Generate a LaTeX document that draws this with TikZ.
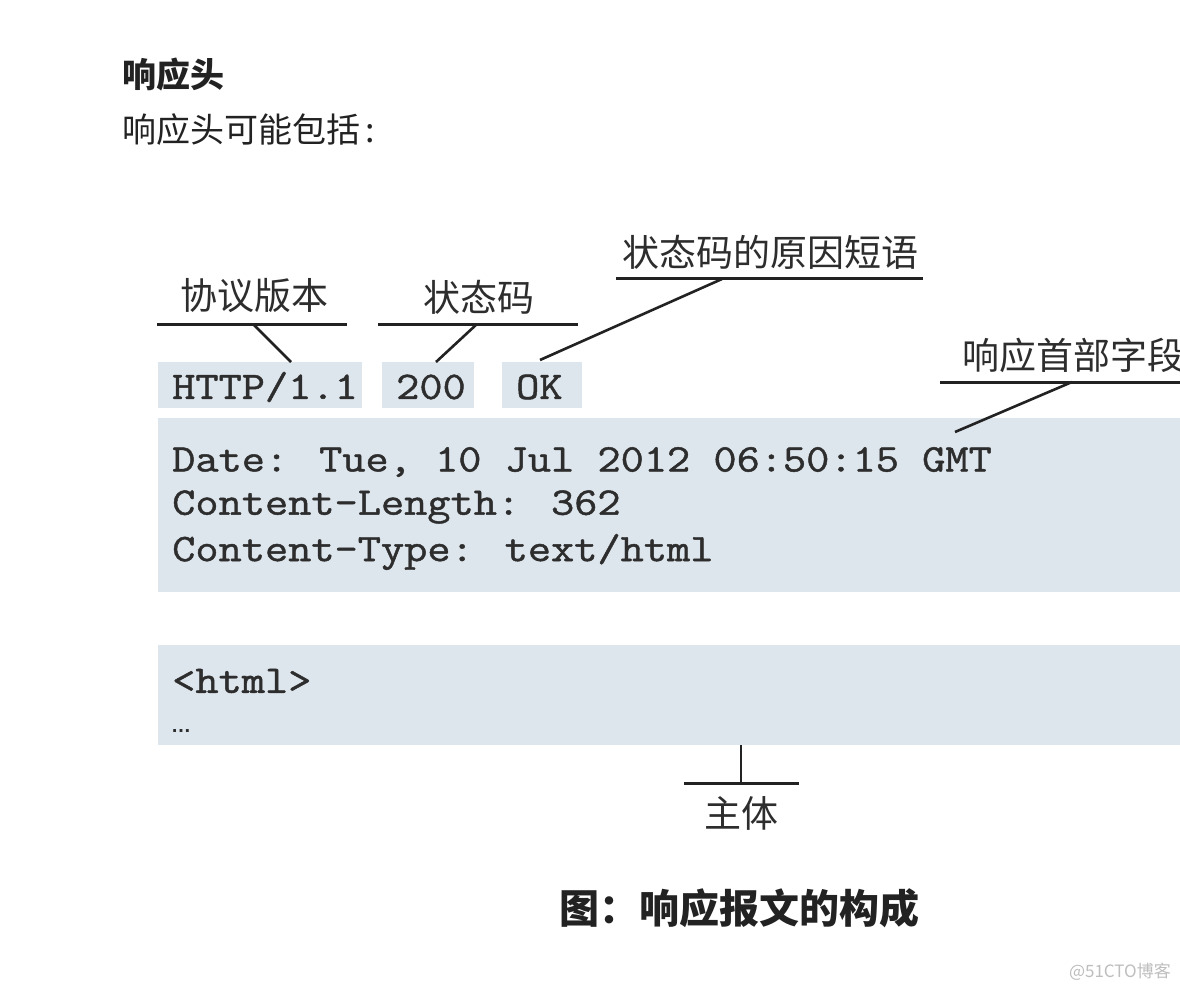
\documentclass[tikz,border=0pt]{standalone}
\usepackage{fontspec}
\setmainfont{Liberation Sans}
\newfontfamily\cjk{Noto Sans CJK SC}
\newfontfamily\mono[FakeStretch=1.155,FakeBold=1.2]{Latin Modern Mono}
\definecolor{boxc}{RGB}{221,229,237}
\definecolor{inkc}{RGB}{34,34,34}
\definecolor{labc}{RGB}{45,45,45}
\definecolor{wmc}{RGB}{190,190,190}
\begin{document}
\begin{tikzpicture}[x=1pt,y=-1pt,
  box/.style={fill=boxc,draw=none,inner sep=0,anchor=north west},
  lbl/.style={font=\cjk\fontsize{37}{40}\selectfont,text=labc,inner sep=0,anchor=west},
  code/.style={font=\mono\fontsize{39}{44}\selectfont,text=labc,inner sep=0,anchor=west},
  bar/.style={line width=3pt,draw=inkc},
  lead/.style={line width=2.6pt,draw=inkc}]
\useasboundingbox[fill=white] (0,0) rectangle (1180,992);
% headings
\node[font=\cjk\bfseries\fontsize{34}{36}\selectfont,text=inkc,inner sep=0,anchor=west] (h1) at (122,75) {响应头};
\node[font=\cjk\fontsize{34}{36}\selectfont,text=inkc,inner sep=0,anchor=west] (h2) at (122,130) {响应头可能包括\,:};
% boxes
\node[box,minimum width=204,minimum height=46] (bver) at (158,362) {};
\node[box,minimum width=92,minimum height=46] (bcode) at (382,362) {};
\node[box,minimum width=80,minimum height=46] (bok) at (502,362) {};
\node[box,minimum width=1030,minimum height=174] (bhdr) at (158,418) {};
\node[box,minimum width=1030,minimum height=100] (bbody) at (158,645) {};
% code texts
\node[code] (tver) at (172,387) {HTTP/1.1};
\node[code] (tcode) at (396,387) {200};
\node[code] (tok) at (516,387) {OK};
\node[code] (t1) at (172,462) {Date: Tue, 10 Jul 2012 06:50:15 GMT};
\node[code] (t2) at (172,507) {Content-Length: 362};
\node[code] (t3) at (172,552) {Content-Type: text/html};
\node[code] (t4) at (172,681) {<html>};
\node[font=\bfseries\fontsize{20}{22}\selectfont,text=labc,inner sep=0,anchor=west] (t5) at (171,731) {…};
% labels
\node[lbl] (lver) at (180,296) {协议版本};
\node[lbl] (lcode) at (423,297) {状态码};
\node[lbl] (lok) at (622,252) {状态码的原因短语};
\node[lbl] (lhdr) at (962,355) {响应首部字段};
\node[lbl,anchor=center] (lbody) at (741,813) {主体};
% bars
\coordinate (v1) at (157,324); \coordinate (v2) at (347,324); \coordinate (vm) at (253,324);
\coordinate (c1) at (378,324); \coordinate (c2) at (578,324); \coordinate (cm) at (477,324);
\coordinate (o1) at (616,279); \coordinate (o2) at (923,279); \coordinate (om) at (722,279);
\coordinate (r1) at (940,382); \coordinate (r2) at (1180,382); \coordinate (rm) at (1072,382);
\coordinate (b1) at (684,783); \coordinate (b2) at (799,783); \coordinate (bm) at (741,783);
\draw[bar] (v1) -- (v2);
\draw[bar] (c1) -- (c2);
\draw[bar] (o1) -- (o2);
\draw[bar] (r1) -- (r2);
\draw[bar] (b1) -- (b2);
% leads
\draw[lead] (vm) -- (bver.north west -| 291,0);
\draw[lead] (cm) -- (bcode.north west -| 436,0);
\draw[lead] (om) -- (540,360) coordinate (okend);
\draw[lead] (rm) -- (955,432) coordinate (hdrend);
\draw[lead] (bm) -- (bbody.south west -| 741,0);
% caption
\node[font=\cjk\bfseries\fontsize{40}{44}\selectfont,text=inkc,inner sep=0,anchor=center] (cap) at (739,908) {图：响应报文的构成};
\node[font=\cjk\fontsize{17}{19}\selectfont,text=wmc,inner sep=0,anchor=east] (wm) at (1171,972) {@51CTO博客};
\end{tikzpicture}
\end{document}
